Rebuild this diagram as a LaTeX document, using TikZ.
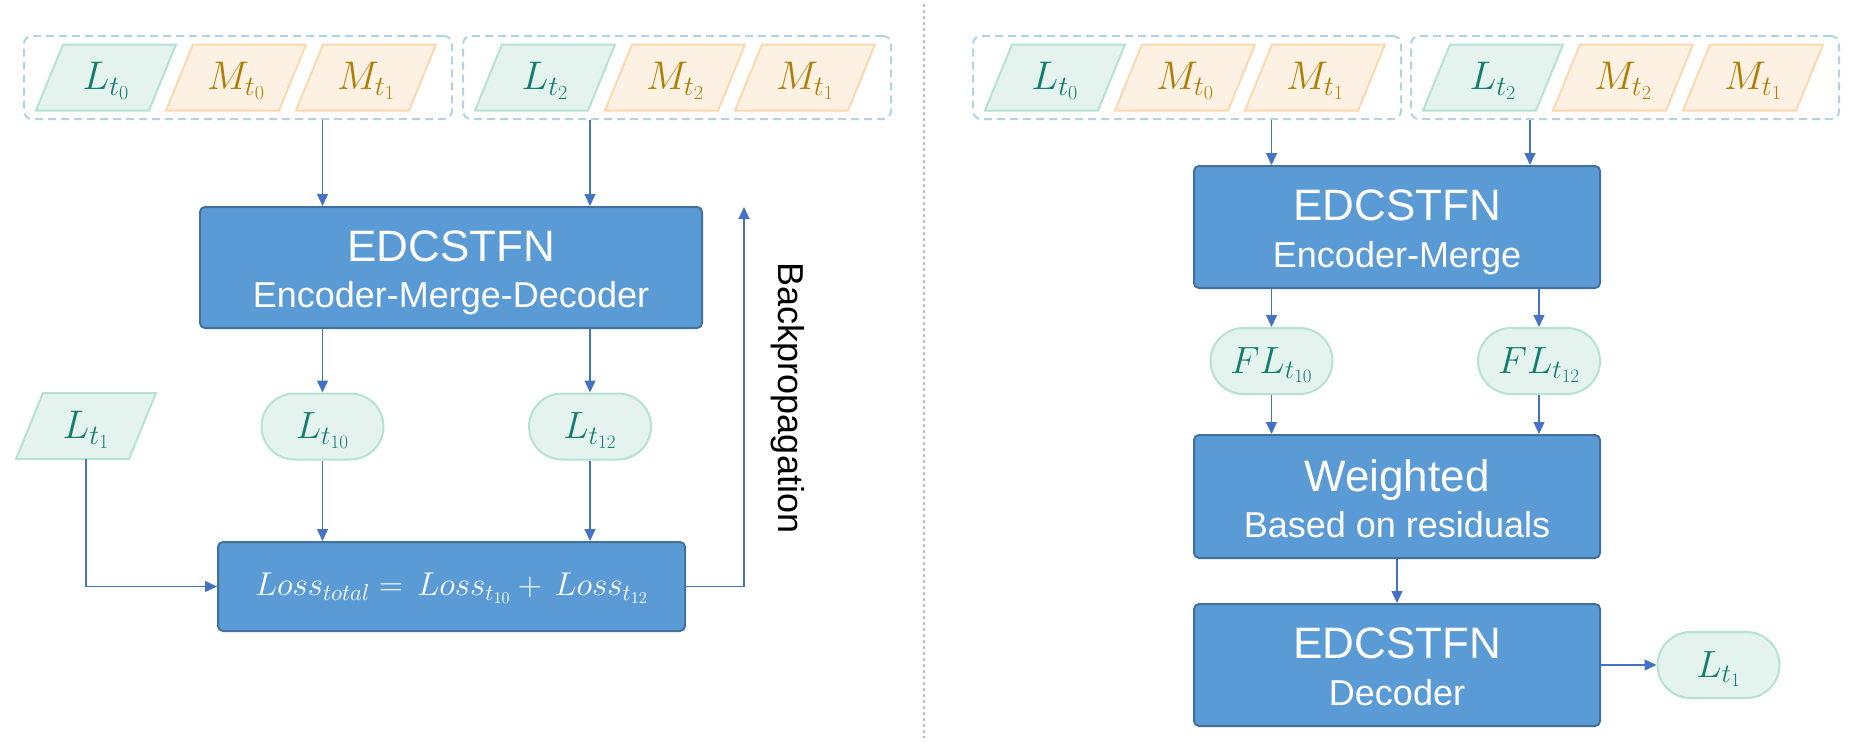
\RequirePackage{fix-cm}
\documentclass[tikz,border=0pt]{standalone}
\usepackage{fontspec}
\setmainfont{Liberation Sans}
\usetikzlibrary{arrows.meta}
\definecolor{bfill}{HTML}{5B9BD5}
\definecolor{bline}{HTML}{41719C}
\definecolor{acol}{HTML}{4472C4}
\definecolor{gfill}{HTML}{E5F3EE}
\definecolor{gline}{HTML}{B5E2D3}
\definecolor{gtxt}{HTML}{147D6F}
\definecolor{ofill}{HTML}{FDF1E4}
\definecolor{oline}{HTML}{FCD8AE}
\definecolor{otxt}{HTML}{B07D05}
\definecolor{dcol}{HTML}{B0D4E2}
\definecolor{divcol}{HTML}{BFBFBF}
\newcommand\paral[5]{%
  \draw[p#4] ({#2-70},{#3+33}) -- ({#2-43},{#3-33}) -- ({#2+70},{#3-33}) -- ({#2+43},{#3+33}) -- cycle;
  \node[lab,text=#4txt] (#1) at (#2,#3) {$#5$};}
\begin{document}
\begin{tikzpicture}[x=1pt,y=-1pt,
  arr/.style={draw=acol, line width=1.3, -{Triangle[length=12pt,width=11pt]}},
  grp/.style={draw=dcol, dash pattern=on 8pt off 5pt, line width=2, rounded corners=8, minimum width=428, minimum height=83, inner sep=0},
  bbox/.style={draw=bline, fill=bfill, line width=2, rounded corners=5, inner sep=0},
  stad/.style={draw=gline, fill=gfill, line width=2, rounded corners=33, minimum width=122, minimum height=66, inner sep=0, text=gtxt, text height=24, text depth=0, font=\fontsize{38}{42}\selectfont},
  pg/.style={fill=gfill, draw=gline, line width=2},
  po/.style={fill=ofill, draw=oline, line width=2},
  lab/.style={minimum width=113, minimum height=66, inner sep=0, text height=24, text depth=0, font=\fontsize{40}{44}\selectfont},
  ttl/.style={text=white, anchor=base, inner sep=0, font=\fontsize{44}{48}\selectfont},
  subt/.style={text=white, anchor=base, inner sep=0, font=\fontsize{36}{40}\selectfont},
  divider/.style={draw=divcol, dash pattern=on 3pt off 3pt, line width=1.3}
]
\useasboundingbox (0,0) rectangle (1866,742);
% ---------- left panel ----------
\node[grp] (g1) at (238,77.5) {};
\node[grp] (g2) at (677,77.5) {};
\paral{a1}{106}{77.5}{g}{L_{t_0}}
\paral{a2}{236}{77.5}{o}{M_{t_0}}
\paral{a3}{366}{77.5}{o}{M_{t_1}}
\paral{a4}{545}{77.5}{g}{L_{t_2}}
\paral{a5}{675}{77.5}{o}{M_{t_2}}
\paral{a6}{805}{77.5}{o}{M_{t_1}}
\node[bbox, minimum width=502, minimum height=121] (enc) at (451,267.5) {};
\node[ttl] (enct) at (451,261) {EDCSTFN};
\node[subt] (encs) at (451,307) {Encoder-Merge-Decoder};
\node[stad] (l10) at (322.5,426.5) {$L_{t_{10}}$};
\node[stad] (l12) at (590,426.5) {$L_{t_{12}}$};
\paral{lt1}{86}{426}{g}{L_{t_1}}
\node[bbox, minimum width=467, minimum height=89, text=white, text height=18, text depth=0, font=\fontsize{33}{37}\selectfont] (loss) at (451.5,586.5) {$Loss_{total} = \,Loss_{t_{10}} + \,Loss_{t_{12}}$};
\coordinate (bptop) at (744,207);
\node[rotate=-90, anchor=base, inner sep=0, font=\fontsize{36}{40}\selectfont] (bpl) at (778,398) {Backpropagation};
\draw[arr] (g1.south -| l10) -- (enc.north -| l10);
\draw[arr] (g2.south -| l12) -- (enc.north -| l12);
\draw[arr] (enc.south -| l10) -- (l10.north);
\draw[arr] (enc.south -| l12) -- (l12.north);
\draw[arr] (l10.south) -- (loss.north -| l10);
\draw[arr] (l12.south) -- (loss.north -| l12);
\draw[arr] (lt1.south) |- (loss.west);
\draw[arr] (loss.east) -| (bptop);
% ---------- divider ----------
\draw[divider] (924,4) -- (924,738);
% ---------- right panel ----------
\node[grp] (r1) at (1187,77.5) {};
\node[grp] (r2) at (1625,77.5) {};
\paral{b1}{1055}{77.5}{g}{L_{t_0}}
\paral{b2}{1185}{77.5}{o}{M_{t_0}}
\paral{b3}{1315}{77.5}{o}{M_{t_1}}
\paral{b4}{1493}{77.5}{g}{L_{t_2}}
\paral{b5}{1623}{77.5}{o}{M_{t_2}}
\paral{b6}{1753}{77.5}{o}{M_{t_1}}
\node[bbox, minimum width=406, minimum height=122] (em) at (1397,227) {};
\node[ttl] (emt) at (1397,220) {EDCSTFN};
\node[subt] (ems) at (1397,267) {Encoder-Merge};
\node[stad] (f10) at (1271.5,361) {$FL_{t_{10}}$};
\node[stad] (f12) at (1539,361) {$FL_{t_{12}}$};
\node[bbox, minimum width=406, minimum height=123] (wt) at (1397,496.5) {};
\node[ttl] (wtt) at (1397,491) {Weighted};
\node[subt] (wts) at (1397,537) {Based on residuals};
\node[bbox, minimum width=406, minimum height=122] (dec) at (1397,665) {};
\node[ttl] (dect) at (1397,658) {EDCSTFN};
\node[subt] (decs) at (1397,705) {Decoder};
\node[stad] (out) at (1718.5,665) {$L_{t_1}$};
\coordinate (c2) at (1530,0);
\draw[arr] (r1.south -| f10) -- (em.north -| f10);
\draw[arr] (r2.south -| c2) -- (em.north -| c2);
\draw[arr] (em.south -| f10) -- (f10.north);
\draw[arr] (em.south -| f12) -- (f12.north);
\draw[arr] (f10.south) -- (wt.north -| f10);
\draw[arr] (f12.south) -- (wt.north -| f12);
\draw[arr] (wt.south) -- (dec.north);
\draw[arr] (dec.east) -- (out.west);
\end{tikzpicture}
\end{document}
